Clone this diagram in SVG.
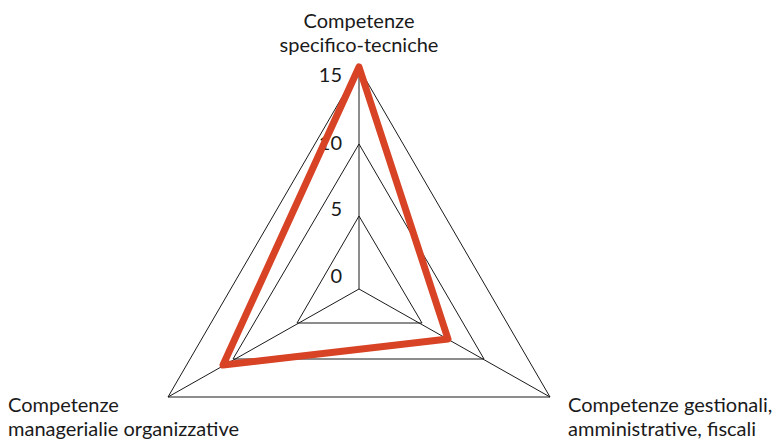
<svg xmlns="http://www.w3.org/2000/svg" width="776" height="444" viewBox="0 0 776 444">
  <style>
    .grid { fill: none; stroke: #1a1a1a; stroke-width: 1; }
    .series { fill: none; stroke: #d84325; stroke-width: 7; stroke-linejoin: round; }
    .lbl { font-family: Lato, "Open Sans", sans-serif; font-size: 20px; fill: #1a1a1a; }
    .tick { font-family: Lato, "Open Sans", sans-serif; font-size: 20px; fill: #1a1a1a; text-anchor: end; }
  </style>
  <rect width="776" height="444" fill="#ffffff"/>

  <!-- grid rings at 5, 10, 15 and the three axes -->
  <g id="grid">
    <polygon class="grid" points="359,216 422,323 297,323"/>
    <polygon class="grid" points="359,144 484,359 233,359"/>
    <polygon class="grid" points="359,68 550,397 168,397"/>
    <line class="grid" x1="359" y1="289" x2="359" y2="68"/>
    <line class="grid" x1="359" y1="289" x2="550" y2="397"/>
    <line class="grid" x1="359" y1="289" x2="168" y2="397"/>
  </g>

  <!-- scale values along the vertical axis -->
  <g id="scale">
    <text class="tick" x="342" y="283">0</text>
    <text class="tick" x="342" y="216">5</text>
    <text class="tick" x="342" y="150">10</text>
    <text class="tick" x="342" y="82">15</text>
  </g>

  <!-- data series -->
  <g id="series">
    <polygon class="series" points="359,67 448,339 223,365"/>
  </g>

  <!-- axis titles -->
  <g id="axis-top">
    <text class="lbl" x="359" y="28" text-anchor="middle">Competenze</text>
    <text class="lbl" x="359" y="52" text-anchor="middle">specifico-tecniche</text>
  </g>
  <g id="axis-left">
    <text class="lbl" x="8" y="412">Competenze</text>
    <text class="lbl" x="8" y="436">managerialie organizzative</text>
  </g>
  <g id="axis-right">
    <text class="lbl" x="568" y="412">Competenze gestionali,</text>
    <text class="lbl" x="568" y="436">amministrative, fiscali</text>
  </g>
</svg>
